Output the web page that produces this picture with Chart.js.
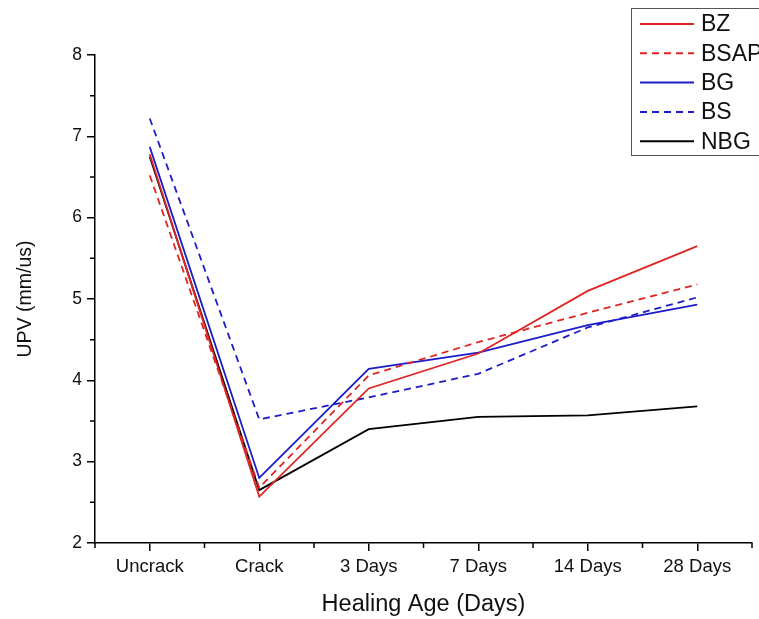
<!DOCTYPE html>
<html>
<head>
<meta charset="utf-8">
<script src="https://cdn.jsdelivr.net/npm/chart.js@4.4.1/dist/chart.umd.min.js"></script>
<style>
  html, body { margin: 0; padding: 0; background: #fff; }
  #wrap { width: 759px; height: 619px; position: relative; }
</style>
</head>
<body>
<div id="wrap"><canvas id="upv"></canvas></div>
<script>
// healing ages on the x axis
const ages = ['Uncrack', 'Crack', '3 Days', '7 Days', '14 Days', '28 Days'];

// UPV readings (mm/us) per mix
const bz   = [6.78, 2.57, 3.90, 4.33, 5.10, 5.65];
const bsap = [6.52, 2.68, 4.06, 4.47, 4.83, 5.18];
const bg   = [6.87, 2.80, 4.14, 4.34, 4.68, 4.93];
const bs   = [7.22, 3.52, 3.79, 4.08, 4.65, 5.02];
const nbg  = [6.75, 2.65, 3.40, 3.55, 3.57, 3.68];

const yTicks = [2, 3, 4, 5, 6, 7, 8];

const RED = '#e02424';
const BLUE = '#1c1cc8';
const DASH = [7, 5];
const FONT = '"Liberation Sans", Arial, sans-serif';

const series = (label, data, color, dashed) => ({
  label: label,
  data: data,
  borderColor: color,
  backgroundColor: color,
  borderWidth: 1.8,
  borderDash: dashed ? DASH : [],
  pointRadius: 0,
  tension: 0,
  fill: false,
});

// small ticks between the labelled ones
const minorTicks = {
  id: 'minorTicks',
  afterDraw(chart) {
    const ctx = chart.ctx;
    const x = chart.scales.x, y = chart.scales.y;
    ctx.save();
    ctx.strokeStyle = '#000';
    ctx.lineWidth = 1.5;
    ctx.beginPath();
    for (let i = 0; i <= ages.length; i++) {
      const px = x.getPixelForValue(i - 0.5);
      ctx.moveTo(px, y.bottom);
      ctx.lineTo(px, y.bottom + 5);
    }
    for (let i = 0; i < yTicks.length - 1; i++) {
      const py = y.getPixelForValue(yTicks[i] + 0.5);
      ctx.moveTo(x.left, py);
      ctx.lineTo(x.left - 5, py);
    }
    ctx.stroke();
    ctx.restore();
  }
};

// boxed legend in the top right corner
const boxLegend = {
  id: 'boxLegend',
  afterDatasetsDraw(chart) {
    const ctx = chart.ctx;
    const bx = 631, by = 8, bw = 160, bh = 147;
    ctx.save();
    ctx.fillStyle = '#fff';
    ctx.fillRect(bx, by, bw, bh);
    ctx.strokeStyle = '#555';
    ctx.lineWidth = 1;
    ctx.strokeRect(bx + 0.5, by + 0.5, bw, bh);
    ctx.font = '23px ' + FONT;
    ctx.textBaseline = 'middle';
    ctx.fillStyle = '#111';
    chart.data.datasets.forEach((ds, i) => {
      const ly = 24 + i * 29.3;
      ctx.strokeStyle = ds.borderColor;
      ctx.lineWidth = 2;
      ctx.setLineDash(ds.borderDash);
      ctx.beginPath();
      ctx.moveTo(640, ly);
      ctx.lineTo(694, ly);
      ctx.stroke();
      ctx.setLineDash([]);
      ctx.fillText(ds.label, 701, ly + 1);
    });
    ctx.restore();
  }
};

new Chart(document.getElementById('upv'), {
  type: 'line',
  data: {
    labels: ages,
    datasets: [
      series('BZ', bz, RED, false),
      series('BSAP', bsap, RED, true),
      series('BG', bg, BLUE, false),
      series('BS', bs, BLUE, true),
      series('NBG', nbg, '#000', false),
    ],
  },
  options: {
    responsive: true,
    maintainAspectRatio: false,
    animation: false,
    layout: { padding: { top: 55, right: 7, left: 0, bottom: 0 } },
    plugins: {
      legend: { display: false },
      tooltip: { enabled: false },
    },
    scales: {
      x: {
        type: 'category',
        offset: true,
        afterFit(scale) { scale.height = 76; },
        border: { display: true, color: '#000', width: 1.5 },
        grid: {
          offset: false,
          drawOnChartArea: false,
          drawTicks: true,
          tickLength: 8,
          color: '#000',
          lineWidth: 1.5,
        },
        ticks: {
          color: '#111',
          padding: 5,
          maxRotation: 0,
          font: { family: FONT, size: 18.5 },
        },
        title: {
          display: true,
          text: 'Healing Age (Days)',
          color: '#111',
          padding: { top: 4, bottom: 0 },
          font: { family: FONT, size: 23.5 },
        },
      },
      y: {
        min: 2,
        max: 8,
        afterFit(scale) { scale.width = 95; },
        afterBuildTicks(scale) { scale.ticks = yTicks.map(v => ({ value: v })); },
        border: { display: true, color: '#000', width: 1.5 },
        grid: {
          drawOnChartArea: false,
          drawTicks: true,
          tickLength: 8,
          color: '#000',
          lineWidth: 1.5,
        },
        ticks: {
          color: '#111',
          padding: 5,
          font: { family: FONT, size: 17.5 },
        },
        title: {
          display: true,
          text: 'UPV (mm/us)',
          color: '#111',
          padding: { top: 14, bottom: 10 },
          font: { family: FONT, size: 19.5 },
        },
      },
    },
  },
  plugins: [minorTicks, boxLegend],
});
</script>
</body>
</html>
